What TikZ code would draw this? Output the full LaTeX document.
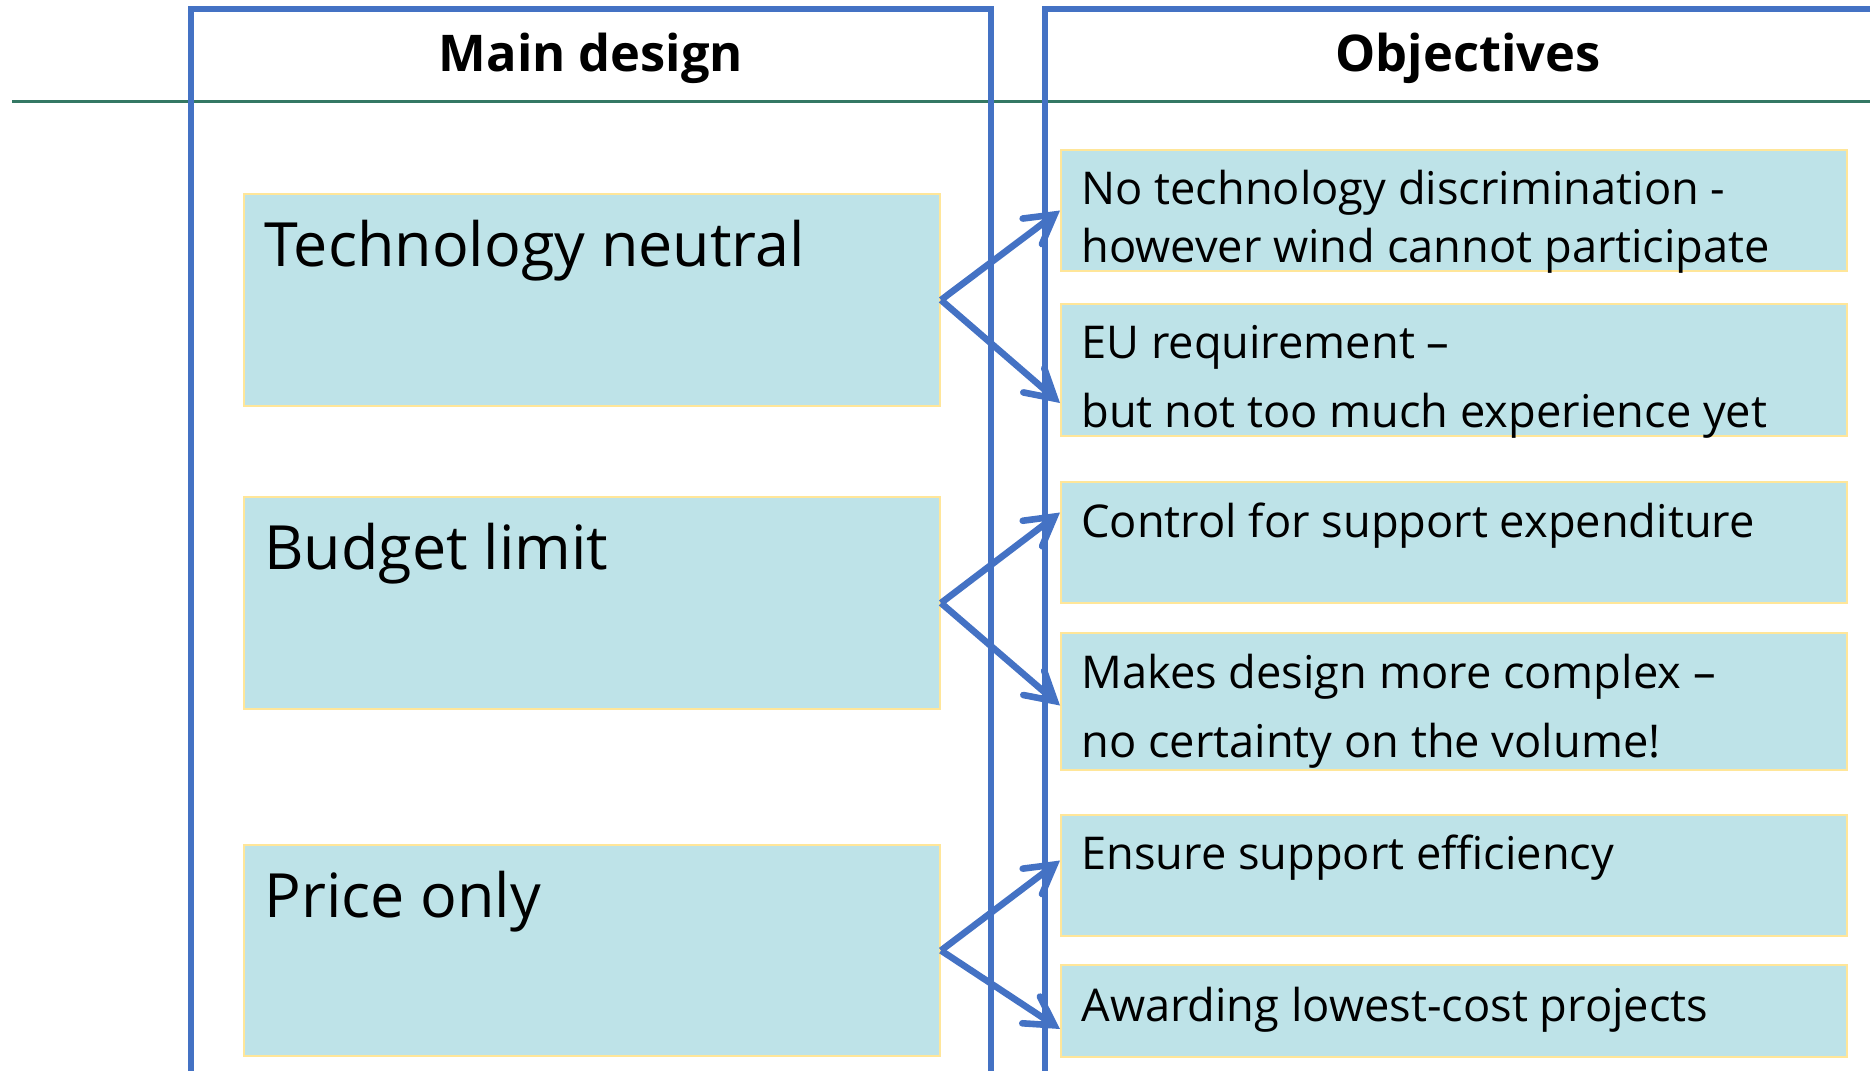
\documentclass[tikz,border=0pt]{standalone}
\usepackage{fontspec}
\setmainfont{Open Sans}
\usetikzlibrary{arrows.meta,calc}
\definecolor{frameblue}{HTML}{4472C4}
\definecolor{cellfill}{RGB}{190,227,232}
\definecolor{celledge}{HTML}{FFE699}
\definecolor{rulegreen}{RGB}{52,120,100}
\begin{document}
\begin{tikzpicture}[x=0.5pt,y=-0.5pt,
  cell/.style={draw=celledge, line width=1pt, fill=cellfill, inner sep=0pt,
    anchor=north west},
  leftcell/.style={cell, minimum width=348pt, minimum height=#1},
  rightcell/.style={cell, minimum width=393pt, minimum height=#1},
  bigtext/.style={anchor=base west, inner sep=0pt,
    font=\fontsize{30.5}{36}\selectfont},
  celltext/.style={anchor=base west, inner sep=0pt, align=left,
    font=\fontsize{22.6}{#1}\selectfont},
  celltext/.default=29pt,
  headtext/.style={anchor=base, inner sep=0pt,
    font=\fontsize{25.3}{30}\selectfont\bfseries},
  frame/.style={draw=frameblue, line width=3pt},
  link/.style={draw=frameblue, line width=3.3pt, line join=miter,
    -{Straight Barb[length=14pt, width=16pt, line width=3.3pt,
      line cap=round, line join=miter]}}
]
\useasboundingbox (0,0) rectangle (1870,1071);

% horizontal rule under the headings
\coordinate (ruleL) at (12,101);
\coordinate (ruleR) at (1870,101);
\draw[rulegreen, line width=1.5pt] (ruleL) -- (ruleR);

% column frames, open at the bottom
\draw[frame] (191,1075) -- (191,9) -- (991,9) -- (991,1075);
\draw[frame] (1045,1075) -- (1045,9) -- (1875,9);

% headings
\node[headtext] (hmain) at (591,71) {Main design};
\node[headtext] (hobj) at (1468,71) {Objectives};

% design elements
\node[leftcell=106pt] (tn) at (243,193) {};
\node[leftcell=106pt] (bl) at (243,496) {};
\node[leftcell=105.5pt] (po) at (243,844) {};
\node[bigtext] (tnt) at ($(tn.north west)+(21,73)$) {Technology neutral};
\node[bigtext] (blt) at ($(bl.north west)+(21,73)$) {Budget limit};
\node[bigtext] (pot) at ($(po.north west)+(21,73)$) {Price only};

% objectives (two-line texts are placed by their last baseline)
\node[rightcell=60.5pt] (r1) at (1060,149) {};
\node[rightcell=66pt] (r2) at (1060,303) {};
\node[rightcell=60.5pt] (r3) at (1060,481) {};
\node[rightcell=68.5pt] (r4) at (1060,632) {};
\node[rightcell=60.5pt] (r5) at (1060,814) {};
\node[rightcell=46pt] (r6) at (1060,964) {};
\node[celltext=29pt] (r1t) at ($(r1.north west)+(21,113)$)
  {No technology discrimination -\\however wind cannot participate};
\node[celltext=34.5pt] (r2t) at ($(r2.north west)+(21,124)$)
  {EU requirement –\\but not too much experience yet};
\node[celltext] (r3t) at ($(r3.north west)+(21,56)$)
  {Control for support expenditure};
\node[celltext=34.5pt] (r4t) at ($(r4.north west)+(21,125)$)
  {Makes design more complex –\\no certainty on the volume!};
\node[celltext] (r5t) at ($(r5.north west)+(21,55)$)
  {Ensure support efficiency};
\node[celltext] (r6t) at ($(r6.north west)+(21,57)$)
  {Awarding lowest-cost projects};

% links from each design element to its objectives
\draw[link] (tn.east) -- (r1.west);
\draw[link] (tn.east) -- ($(r2.west)+(0,33)$);
\draw[link] (bl.east) -- ($(r3.west)+(0,-30)$);
\draw[link] (bl.east) -- ($(r4.west)+(0,4)$);
\draw[link] (po.east) -- ($(r5.west)+(0,-15)$);
\draw[link] (po.east) -- ($(r6.west)+(0,18)$);
\end{tikzpicture}
\end{document}
